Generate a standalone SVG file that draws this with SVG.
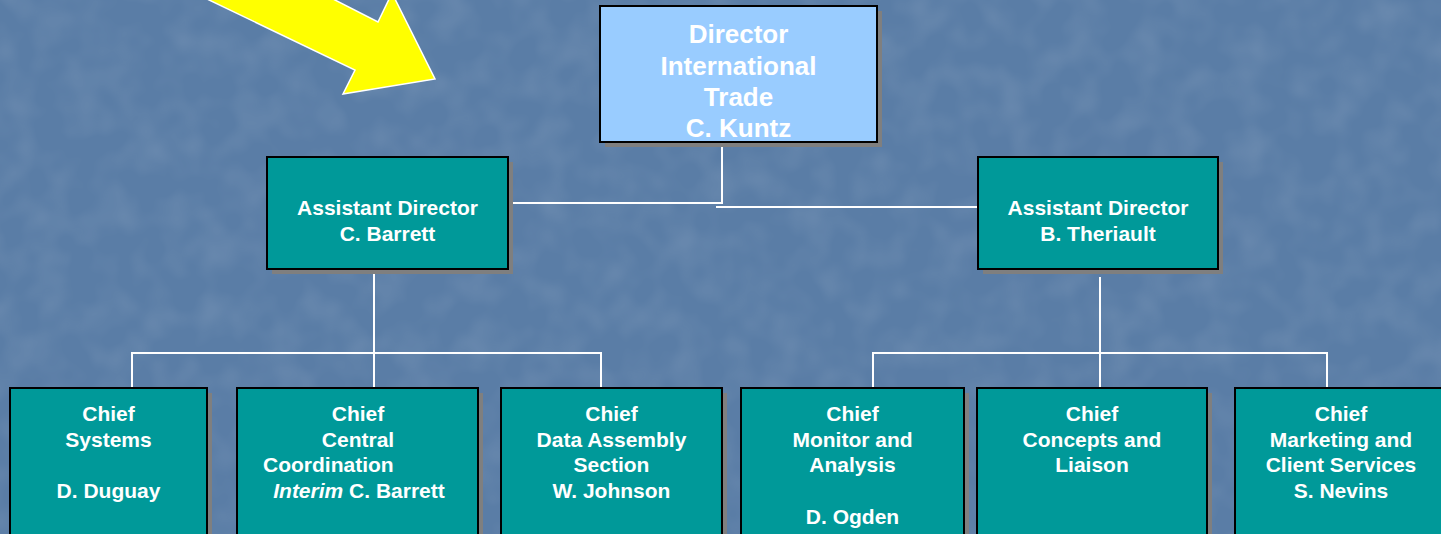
<svg xmlns="http://www.w3.org/2000/svg" width="1441" height="534" viewBox="0 0 1441 534">
<defs>
<filter id="tex" x="0" y="0" width="100%" height="100%">
<feTurbulence type="fractalNoise" baseFrequency="0.03" numOctaves="2" seed="7" result="n"/>
<feColorMatrix in="n" type="matrix" values="0 0 0 0 1  0 0 0 0 1  0 0 0 0 1  0 0 0 0.8 -0.3" />
</filter>
</defs>
<style>
.bg{fill:#5a7da6}
.sh{fill:#7f7f7f}
.box{fill:#009999;stroke:#000;stroke-width:2}
.dir{fill:#99ccff;stroke:#000;stroke-width:2}
.t{font-family:"Liberation Sans",Arial,sans-serif;font-weight:bold;fill:#fff;text-anchor:middle}
.t26{font-size:26px}
.t21{font-size:21px}
.ln{stroke:#fff;stroke-width:2;fill:none}
</style>
<rect class="bg" x="0" y="0" width="1441" height="534"/>
<rect x="0" y="0" width="1441" height="534" filter="url(#tex)" opacity="0.2"/>

<g id="pointer-arrow">
<polygon points="207,-1 355,70 343,94 435,79 392,-7 378,22 333,-1" fill="#ffff00" stroke="#fff" stroke-width="1.5" stroke-linejoin="miter"/>
</g>

<g id="connectors">
<polyline class="ln" points="722,143 722,203 508,203"/>
<line class="ln" x1="716" y1="207" x2="978" y2="207"/>
<line class="ln" x1="374" y1="269" x2="374" y2="389"/>
<polyline class="ln" points="132,389 132,353 601,353 601,389"/>
<line class="ln" x1="1100" y1="277" x2="1100" y2="389"/>
<polyline class="ln" points="873,389 873,353 1327,353 1327,389"/>
</g>

<g id="director">
<rect class="sh" x="605" y="11" width="277" height="136"/>
<rect class="dir" x="600" y="6" width="277" height="136"/>
<text class="t t26" x="738.5" y="43">Director</text>
<text class="t t26" x="738.5" y="75">International</text>
<text class="t t26" x="738.5" y="106">Trade</text>
<text class="t t26" x="738.5" y="137">C. Kuntz</text>
</g>

<g id="ad-barrett">
<rect class="sh" x="272" y="162" width="241" height="112"/>
<rect class="box" x="267" y="157" width="241" height="112"/>
<text class="t t21" x="387.5" y="215">Assistant Director</text>
<text class="t t21" x="387.5" y="241">C. Barrett</text>
</g>

<g id="ad-theriault">
<rect class="sh" x="983" y="162" width="240" height="112"/>
<rect class="box" x="978" y="157" width="240" height="112"/>
<text class="t t21" x="1098" y="215">Assistant Director</text>
<text class="t t21" x="1098" y="241">B. Theriault</text>
</g>

<g id="chief-systems">
<rect class="sh" x="15" y="393" width="197" height="160"/>
<rect class="box" x="10" y="388" width="197" height="160"/>
<text class="t t21" x="108.5" y="421">Chief</text>
<text class="t t21" x="108.5" y="447">Systems</text>
<text class="t t21" x="108.5" y="498">D. Duguay</text>
</g>

<g id="chief-central">
<rect class="sh" x="242" y="393" width="241" height="160"/>
<rect class="box" x="237" y="388" width="241" height="160"/>
<text class="t t21" x="358" y="421">Chief</text>
<text class="t t21" x="358" y="447">Central</text>
<text class="t t21" x="263" y="472" style="text-anchor:start">Coordination</text>
<text class="t t21" x="359" y="498"><tspan font-style="italic">Interim</tspan> C. Barrett</text>
</g>

<g id="chief-data">
<rect class="sh" x="506" y="393" width="221" height="160"/>
<rect class="box" x="501" y="388" width="221" height="160"/>
<text class="t t21" x="611.5" y="421">Chief</text>
<text class="t t21" x="611.5" y="447">Data Assembly</text>
<text class="t t21" x="611.5" y="472">Section</text>
<text class="t t21" x="611.5" y="498">W. Johnson</text>
</g>

<g id="chief-monitor">
<rect class="sh" x="746" y="393" width="223" height="160"/>
<rect class="box" x="741" y="388" width="223" height="160"/>
<text class="t t21" x="852.5" y="421">Chief</text>
<text class="t t21" x="852.5" y="447">Monitor and</text>
<text class="t t21" x="852.5" y="472">Analysis</text>
<text class="t t21" x="852.5" y="524">D. Ogden</text>
</g>

<g id="chief-concepts">
<rect class="sh" x="982" y="393" width="230" height="160"/>
<rect class="box" x="977" y="388" width="230" height="160"/>
<text class="t t21" x="1092" y="421">Chief</text>
<text class="t t21" x="1092" y="447">Concepts and</text>
<text class="t t21" x="1092" y="472">Liaison</text>
</g>

<g id="chief-marketing">
<rect class="sh" x="1240" y="393" width="212" height="160"/>
<rect class="box" x="1235" y="388" width="212" height="160"/>
<text class="t t21" x="1341" y="421">Chief</text>
<text class="t t21" x="1341" y="447">Marketing and</text>
<text class="t t21" x="1341" y="472">Client Services</text>
<text class="t t21" x="1341" y="498">S. Nevins</text>
</g>
</svg>
